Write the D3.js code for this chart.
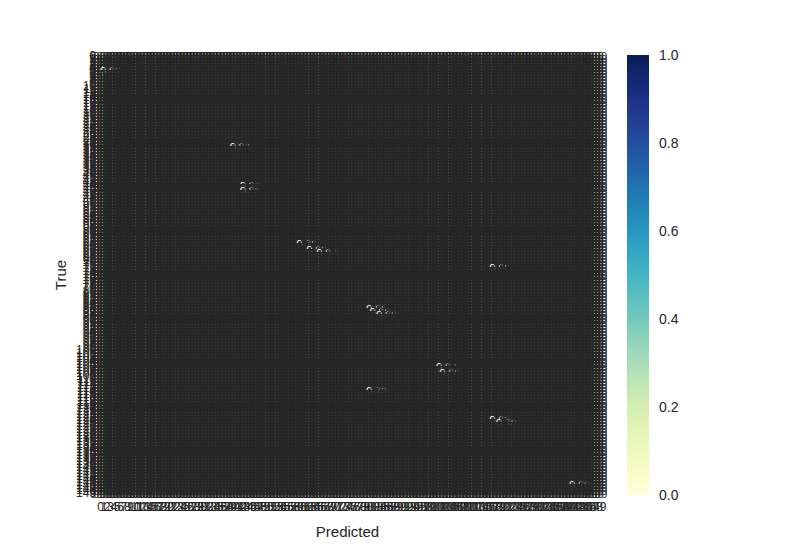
<!DOCTYPE html>
<html>
<head>
<meta charset="utf-8">
<script src="https://cdn.jsdelivr.net/npm/d3@7"></script>
<style>
  body { margin: 0; background: #fff; }
  text { font-family: "Liberation Sans", Arial, sans-serif; }
</style>
</head>
<body>
<svg id="chart" width="800" height="550"></svg>
<script>
// Class ids, shown in order on both axes
const classLabels = d3.range(150).map(String);

// Cells that read clearly non-zero (white annotations); every other cell reads 0.00
const hotRows   = [5,    31,   44,   46,   64,   66,   67,   72,   86,   87,   88,   106,  108,  114,  124,  125,  146];
const hotCols   = [3,    42,   45,   45,   62,   65,   68,   120,  83,   84,   86,   104,  105,  83,   120,  122,  144];
const hotValues = [0.82, 0.81, 0.86, 0.88, 0.79, 0.83, 0.87, 0.68, 0.85, 0.80, 0.88, 0.84, 0.86, 0.72, 0.83, 0.78, 0.90];

// Colour bar ticks
const colorTicks = [0.0, 0.2, 0.4, 0.6, 0.8, 1.0];

const svg = d3.select('#chart');
const plotLeft = 99, plotTop = 55, plotW = 499, plotH = 440;
const textColor = '#262626';

// Build the full matrix from the sparse readings
const matrix = classLabels.map(() => classLabels.map(() => 0));
hotRows.forEach((r, i) => { matrix[r][hotCols[i]] = hotValues[i]; });
const cells = [];
matrix.forEach((row, r) => row.forEach((v, c) => cells.push({ r, c, v })));

const x = d3.scaleBand().domain(classLabels).range([plotLeft, plotLeft + plotW]);
const y = d3.scaleBand().domain(classLabels).range([plotTop, plotTop + plotH]);
const color = d3.scaleSequential(d3.interpolateYlGnBu).domain([0, 1]);

// Seaborn-like choice of annotation colour from the cell luminance
function luminance(c) {
    const rgb = d3.rgb(c);
    const f = v => { v /= 255; return v <= 0.03928 ? v / 12.92 : Math.pow((v + 0.055) / 1.055, 2.4); };
    return 0.2126 * f(rgb.r) + 0.7152 * f(rgb.g) + 0.0722 * f(rgb.b);
}

// Heatmap cells
svg.append('g')
    .selectAll('rect')
    .data(cells)
    .join('rect')
    .attr('x', d => x(classLabels[d.c]))
    .attr('y', d => y(classLabels[d.r]))
    .attr('width', x.bandwidth() + 0.3)
    .attr('height', y.bandwidth() + 0.3)
    .attr('fill', d => color(d.v));

// Annotations, drawn row by row so later cells cover earlier ones
svg.append('g')
    .attr('font-size', 11)
    .attr('text-anchor', 'middle')
    .selectAll('text')
    .data(cells)
    .join('text')
    .attr('x', d => x(classLabels[d.c]) + x.bandwidth() / 2)
    .attr('y', d => y(classLabels[d.r]) + y.bandwidth() / 2 + 4)
    .attr('fill', d => luminance(color(d.v)) > 0.408 ? textColor : '#fff')
    .text(d => d3.format('.2f')(d.v));

// Axes without tick marks
const xAxis = svg.append('g')
    .attr('transform', `translate(0,${plotTop + plotH})`)
    .call(d3.axisBottom(x).tickSize(0).tickPadding(7));
const yAxis = svg.append('g')
    .attr('transform', `translate(${plotLeft},0)`)
    .call(d3.axisLeft(y).tickSize(0).tickPadding(3));
[xAxis, yAxis].forEach(g => {
    g.select('.domain').remove();
    g.selectAll('text').attr('fill', textColor).attr('font-size', 12)
        .attr('font-family', '"Liberation Sans", Arial, sans-serif');
});

// Axis titles
svg.append('text')
    .attr('x', plotLeft + plotW / 2 - 1)
    .attr('y', 537)
    .attr('text-anchor', 'middle')
    .attr('font-size', 15)
    .attr('fill', textColor)
    .text('Predicted');
svg.append('text')
    .attr('transform', `translate(66,${plotTop + plotH / 2}) rotate(-90)`)
    .attr('text-anchor', 'middle')
    .attr('font-size', 15)
    .attr('fill', textColor)
    .text('True');

// Colour bar
const cbX = 627, cbW = 22;
const grad = svg.append('defs').append('linearGradient')
    .attr('id', 'cbar').attr('x1', 0).attr('y1', 1).attr('x2', 0).attr('y2', 0);
d3.range(0, 1.0001, 0.05).forEach(t => {
    grad.append('stop').attr('offset', t).attr('stop-color', color(t));
});
svg.append('rect')
    .attr('x', cbX).attr('y', plotTop)
    .attr('width', cbW).attr('height', plotH)
    .attr('fill', 'url(#cbar)');

const cbScale = d3.scaleLinear().domain([0, 1]).range([plotTop + plotH, plotTop]);
const cbAxis = svg.append('g')
    .attr('transform', `translate(${cbX + cbW},0)`)
    .call(d3.axisRight(cbScale).tickValues(colorTicks).tickFormat(d3.format('.1f')).tickSize(0).tickPadding(10));
cbAxis.select('.domain').remove();
cbAxis.selectAll('text').attr('fill', textColor).attr('font-size', 14)
    .attr('font-family', '"Liberation Sans", Arial, sans-serif');
</script>
</body>
</html>
